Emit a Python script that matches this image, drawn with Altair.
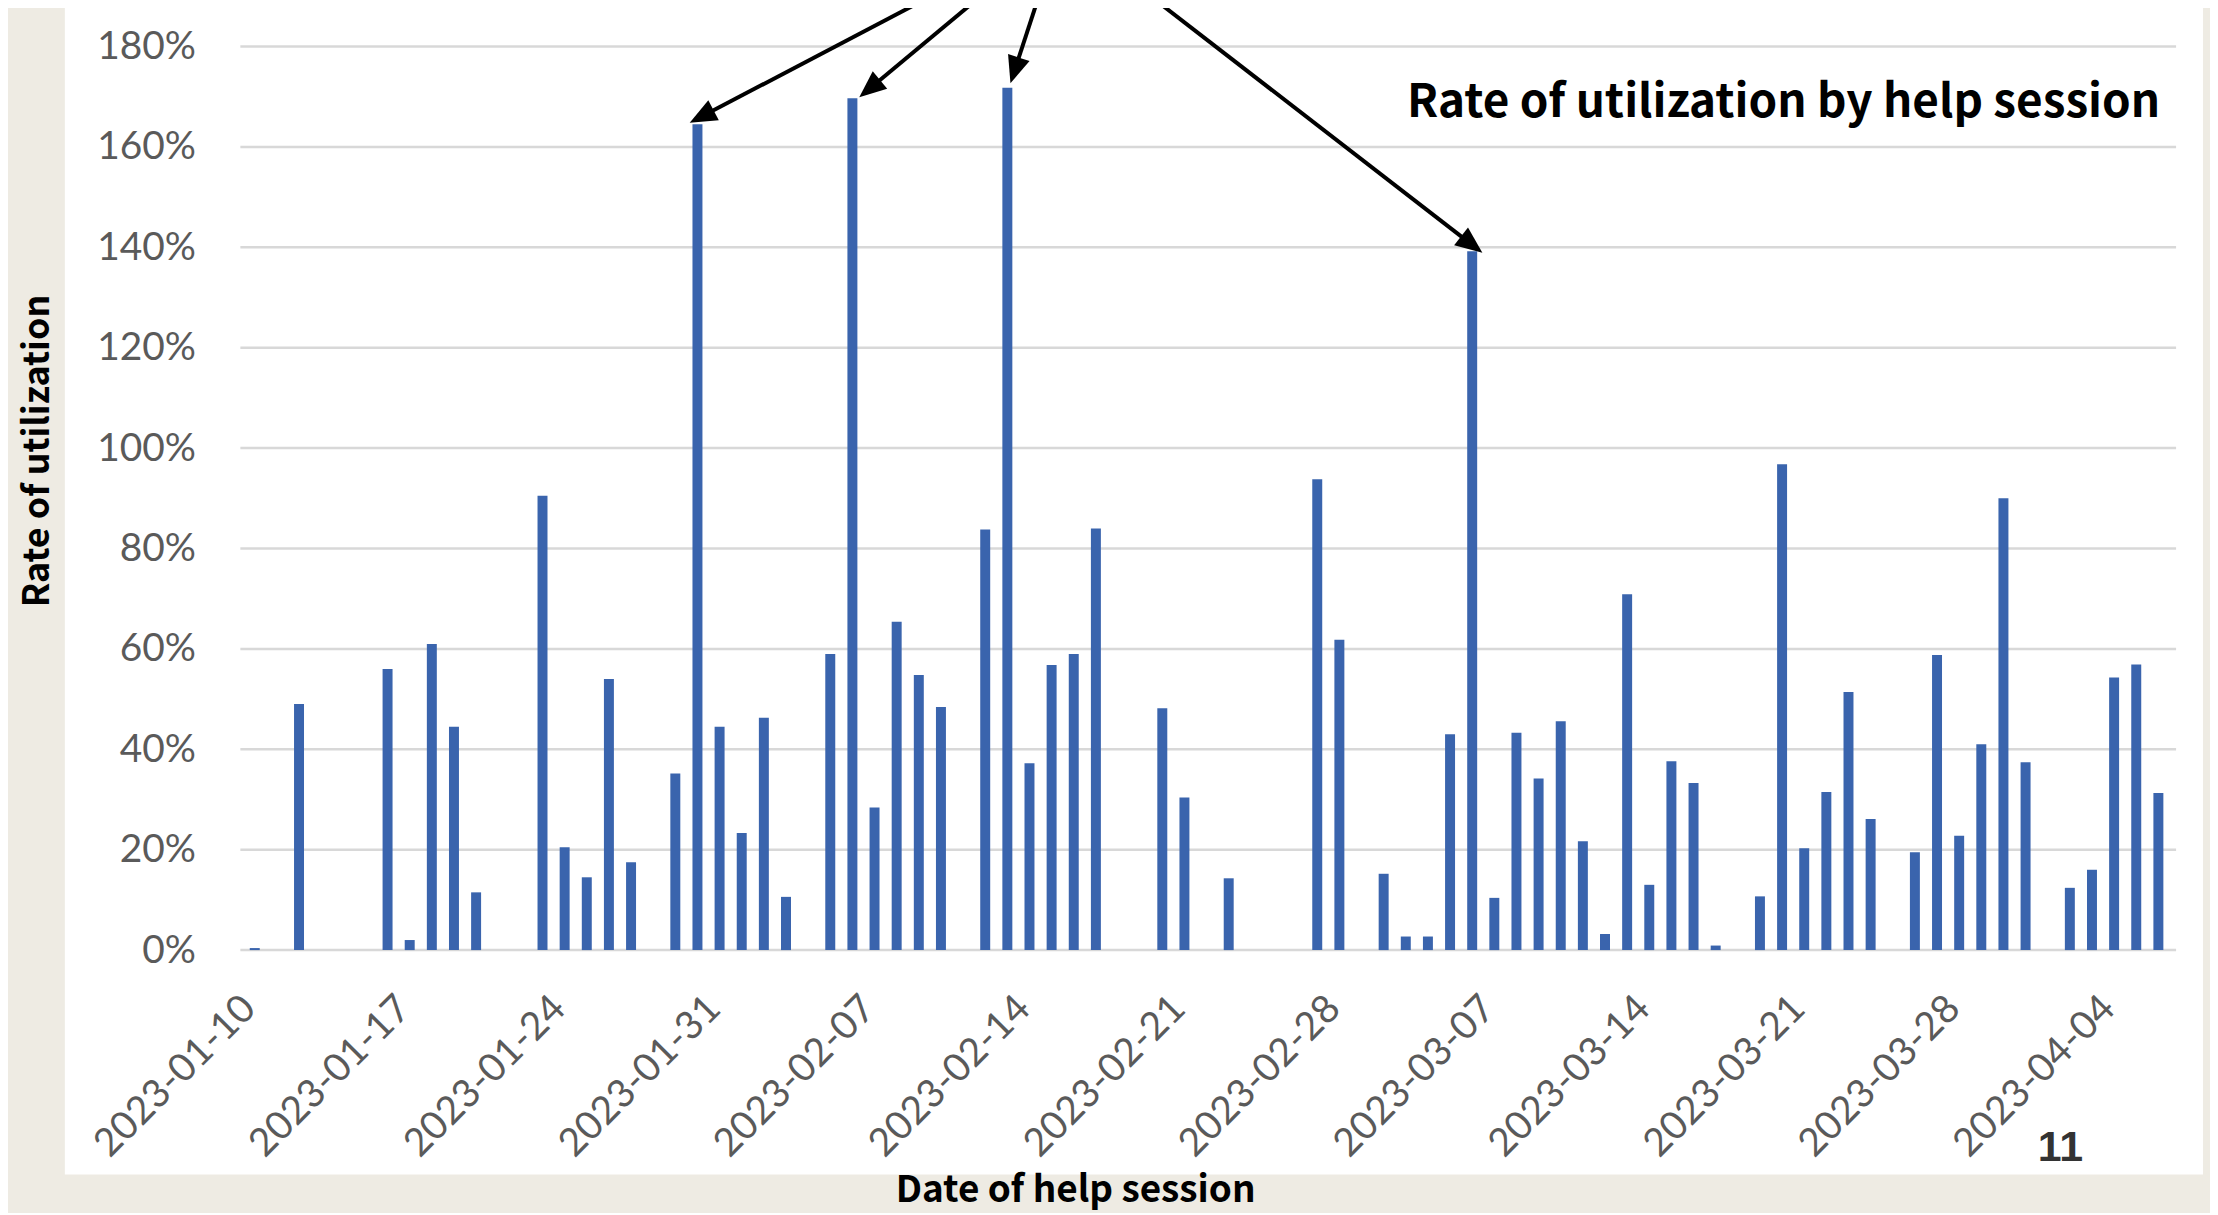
import math
import altair as alt
import pandas as pd

# ---------------- data ----------------
session_dates = [
    "2023-01-10", "2023-01-12", "2023-01-16", "2023-01-17", "2023-01-18", "2023-01-19", "2023-01-20",
    "2023-01-23", "2023-01-24", "2023-01-25", "2023-01-26", "2023-01-27",
    "2023-01-29", "2023-01-30", "2023-01-31", "2023-02-01", "2023-02-02", "2023-02-03",
    "2023-02-05", "2023-02-06", "2023-02-07", "2023-02-08", "2023-02-09", "2023-02-10",
    "2023-02-12", "2023-02-13", "2023-02-14", "2023-02-15", "2023-02-16", "2023-02-17",
    "2023-02-20", "2023-02-21", "2023-02-23",
    "2023-02-27", "2023-02-28", "2023-03-02", "2023-03-03", "2023-03-04", "2023-03-05",
    "2023-03-06", "2023-03-07", "2023-03-08", "2023-03-09", "2023-03-10", "2023-03-11",
    "2023-03-12", "2023-03-13", "2023-03-14", "2023-03-15", "2023-03-16", "2023-03-17",
    "2023-03-19", "2023-03-20", "2023-03-21", "2023-03-22", "2023-03-23", "2023-03-24",
    "2023-03-26", "2023-03-27", "2023-03-28", "2023-03-29", "2023-03-30", "2023-03-31",
    "2023-04-02", "2023-04-03", "2023-04-04", "2023-04-05", "2023-04-06",
]
utilization = [
    0.004, 0.49, 0.56, 0.02, 0.61, 0.445, 0.115,
    0.905, 0.205, 0.145, 0.54, 0.175,
    0.352, 1.645, 0.445, 0.233, 0.463, 0.106,
    0.59, 1.697, 0.284, 0.654, 0.548, 0.484,
    0.838, 1.718, 0.372, 0.568, 0.59, 0.84,
    0.482, 0.304, 0.143,
    0.938, 0.618, 0.152, 0.027, 0.027, 0.43,
    1.392, 0.104, 0.433, 0.342, 0.456, 0.217, 0.032,
    0.709, 0.13, 0.376, 0.333, 0.009,
    0.107, 0.968, 0.203, 0.315, 0.514, 0.261,
    0.195, 0.588, 0.228, 0.41, 0.90, 0.374,
    0.124, 0.16, 0.543, 0.569, 0.313,
]
tick_dates = ["2023-01-10", "2023-01-17", "2023-01-24", "2023-01-31", "2023-02-07",
              "2023-02-14", "2023-02-21", "2023-02-28", "2023-03-07", "2023-03-14",
              "2023-03-21", "2023-03-28", "2023-04-04"]
y_ticks = [0.0, 0.2, 0.4, 0.6, 0.8, 1.0, 1.2, 1.4, 1.6, 1.8]

# annotation arrows (day offsets from first session / rate values)
arrow_from_day = [30.07, 32.49, 35.34, 40.8]
arrow_from_rate = [1.889, 1.889, 1.889, 1.889]
arrow_to_day = [19.65, 27.31, 34.14, 55.46]
arrow_to_rate = [1.648, 1.699, 1.727, 1.389]

chart_title = "Rate of utilization by help session"
x_title = "Date of help session"
y_title = "Rate of utilization"
page_number = "11"

# ---------------- geometry ----------------
PLOT_W, PLOT_H = 1941, 906
DAY_LO, DAY_HI = -0.65, 86.8
PX_DAY = PLOT_W / (DAY_HI - DAY_LO)
PX_RATE = PLOT_H / 1.8

base = pd.Timestamp("2023-01-10", tz="UTC")


def ms(ts):
    return int(ts.value // 10**6)


def iso(ts):
    return ts.strftime("%Y-%m-%dT%H:%M:%S") + "Z"


n = min(len(session_dates), len(utilization))
bars = pd.DataFrame({"date": session_dates[:n], "rate": utilization[:n]})
grid = pd.DataFrame({"g": y_ticks})

rows = []
HEAD = 27
for sx, sy, tx, ty in zip(arrow_from_day, arrow_from_rate, arrow_to_day, arrow_to_rate):
    dx = (tx - sx) * PX_DAY
    dy = -(ty - sy) * PX_RATE
    L = math.hypot(dx, dy)
    ux, uy = dx / L, dy / L
    ex = tx - HEAD * 0.8 * ux / PX_DAY
    ey = ty + HEAD * 0.8 * uy / PX_RATE
    ang = math.degrees(math.atan2(ux, -uy)) % 360
    rows.append({
        "x0": iso(base + pd.to_timedelta(sx, unit="D")),
        "x1": iso(base + pd.to_timedelta(ex, unit="D")),
        "xt": iso(base + pd.to_timedelta(tx, unit="D")),
        "y0": sy, "y1": ey, "yt": ty, "angle": ang,
    })
arrows = pd.DataFrame(rows)

x_domain = [ms(base + pd.to_timedelta(DAY_LO, unit="D")), ms(base + pd.to_timedelta(DAY_HI, unit="D"))]
x_scale = alt.Scale(type="utc", domain=x_domain, nice=False, padding=0)
y_scale = alt.Scale(domain=[0, 1.8], nice=False, zero=True, padding=0)

x_axis = alt.Axis(
    values=[ms(pd.Timestamp(d, tz="UTC")) for d in tick_dates],
    format="%Y-%m-%d", labelAngle=315, labelAlign="right", labelBaseline="middle",
    labelPadding=52, labelOffset=-6, labelFont="Lato", labelFontSize=39, labelColor="#5a5a5a",
    labelLimit=0, labelFlush=False, labelOverlap=False, grid=False, domain=False, ticks=False,
    tickSize=0, zindex=1, title=x_title, titleFont="Noto Sans CJK JP", titleFontWeight="bold",
    titleFontSize=37, titleColor="black", titleX=837, titleY=1203 - 951,
    titleAlign="center", titleBaseline="alphabetic",
)
y_axis = alt.Axis(
    values=y_ticks, format=".0%", labelFont="Lato", labelFontSize=39, labelColor="#5a5a5a",
    labelPadding=45, labelOverlap=False, grid=False, domain=False, ticks=False, tickSize=0,
    zindex=1, title=y_title, titleFont="Noto Sans CJK JP", titleFontWeight="bold",
    titleFontSize=36, titleColor="black", titleX=-192, titleY=405, titleAngle=270,
    titleAlign="center", titleBaseline="alphabetic",
)

panel = alt.Chart(pd.DataFrame({"k": [0]})).mark_rect(color="white").encode(
    x=alt.value(65 - 241), x2=alt.value(2209 - 241),
    y=alt.value(-45), y2=alt.value(1176 - 45),
)

gridlines = alt.Chart(grid).mark_rule(color="#d8d8d8", strokeWidth=2.5).encode(
    y=alt.Y("g:Q", scale=y_scale, title=y_title),
)

bar_layer = alt.Chart(bars).mark_bar(color="#3a64ad", size=10).encode(
    x=alt.X("date:T", scale=x_scale, axis=x_axis, title=x_title),
    y=alt.Y("rate:Q", scale=y_scale, axis=y_axis, title=y_title),
)

arrow_lines = alt.Chart(arrows).mark_rule(color="black", strokeWidth=4, clip=False).encode(
    x=alt.X("x0:T", scale=x_scale, title=x_title), x2="x1:T",
    y=alt.Y("y0:Q", scale=y_scale, title=y_title), y2="y1:Q",
)

arrow_heads = alt.Chart(arrows).mark_point(
    shape="M0,0 L0.42,1 L-0.42,1 Z", filled=True, color="black", opacity=1,
    size=(2 * HEAD) ** 2, strokeWidth=0, clip=False,
).encode(
    x=alt.X("xt:T", scale=x_scale, title=x_title),
    y=alt.Y("yt:Q", scale=y_scale, title=y_title),
    angle=alt.Angle("angle:Q", scale=None),
)

title_text = alt.Chart(pd.DataFrame({"t": [chart_title]})).mark_text(
    font="Noto Sans CJK JP", fontWeight="bold", fontSize=46, color="black",
    align="right", baseline="alphabetic",
).encode(text="t:N", x=alt.value(2166 - 241), y=alt.value(116 - 45))

page_text = alt.Chart(pd.DataFrame({"t": [page_number]})).mark_text(
    font="Liberation Sans", fontSize=43, fontWeight="bold", color="#333333",
    align="center", baseline="alphabetic",
).encode(text="t:N", x=alt.value(2066 - 241), y=alt.value(1163 - 45))

chart = alt.layer(
    panel, gridlines, bar_layer, arrow_lines, arrow_heads, title_text, page_text
).properties(
    width=PLOT_W, height=PLOT_H,
    background="#eeebe3",
    padding={"left": 233, "top": 37, "right": 34, "bottom": 262},
    autosize=alt.AutoSizeParams(type="none"),
).configure_view(stroke=None)

chart.save("out.html", embed_options={"renderer": "svg", "actions": False})
